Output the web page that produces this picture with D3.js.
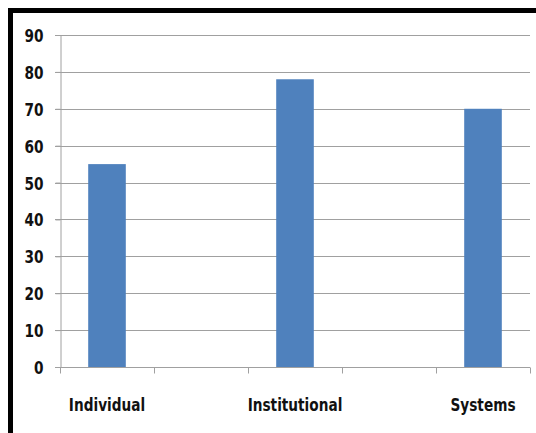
<!DOCTYPE html>
<html>
<head>
<meta charset="utf-8">
<script src="https://cdn.jsdelivr.net/npm/d3@7"></script>
<style>
  body { margin: 0; background: #fff; }
  .lbl { font-family: "DejaVu Sans", sans-serif; font-weight: bold; font-size: 18px; fill: #111; }
</style>
</head>
<body>
<svg id="chart" width="536" height="433"></svg>
<script>
// chart data (blank slots keep the wide spacing of the original)
var categories = ["Individual", "", "Institutional", "", "Systems"];
var values = [55, null, 78, null, 70];
var yTicks = [0, 10, 20, 30, 40, 50, 60, 70, 80, 90];

var width = 536;
var height = 433;
var margin = {top: 35, right: 6, bottom: 66, left: 60};
var w = width - margin.left - margin.right;
var h = height - margin.top - margin.bottom;
var squeeze = 0.76; // narrow the glyphs, the original uses a condensed face

var svg = d3.select("#chart");

// frame (only top and left edges are visible in the picture)
svg.append("rect").attr("x", 8).attr("y", 8).attr("width", width - 8).attr("height", 5).attr("fill", "#000");
svg.append("rect").attr("x", 8).attr("y", 8).attr("width", 5).attr("height", height - 8).attr("fill", "#000");

var chart = svg.append("g")
    .attr("transform", "translate(" + margin.left + "," + margin.top + ")");

var x = d3.scaleBand()
    .domain(d3.range(categories.length))
    .range([0, w])
    .paddingInner(0.6)
    .paddingOuter(0.3);

var y = d3.scaleLinear()
    .domain([0, 90])
    .range([h, 0]);

// gridlines
chart.selectAll(".grid")
    .data(yTicks.slice(1))
    .enter().append("line")
    .attr("x1", -5)
    .attr("x2", w)
    .attr("y1", function(d) { return Math.round(y(d)) + 0.5; })
    .attr("y2", function(d) { return Math.round(y(d)) + 0.5; })
    .attr("stroke", "#a0a0a0")
    .attr("stroke-width", 1);

// bars
chart.selectAll(".bar")
    .data(values.map(function(v, i) { return {i: i, v: v}; }).filter(function(d) { return d.v !== null; }))
    .enter().append("rect")
    .attr("x", function(d) { return x(d.i); })
    .attr("width", x.bandwidth())
    .attr("y", function(d) { return y(d.v); })
    .attr("height", function(d) { return h - y(d.v); })
    .attr("fill", "#4f81bd");

// y axis
var yAxis = d3.axisLeft(y).tickValues(yTicks).tickSize(5);
var gy = chart.append("g").attr("transform", "translate(0.5,0)").call(yAxis);
gy.select(".domain").attr("stroke", "#a0a0a0");
gy.selectAll(".tick line").attr("stroke", "#a0a0a0");
gy.selectAll(".tick text").remove();
gy.selectAll(".tick").append("text")
    .attr("class", "lbl")
    .attr("transform", "translate(-17,0) scale(" + squeeze + ",1)")
    .attr("text-anchor", "end")
    .attr("dy", "0.36em")
    .text(function(d) { return d; });

// x axis line and category boundary ticks
var base = Math.round(h) + 0.5;
chart.append("line")
    .attr("x1", -5).attr("x2", w)
    .attr("y1", base).attr("y2", base)
    .attr("stroke", "#a0a0a0");

chart.selectAll(".xtick")
    .data(d3.range(categories.length + 1))
    .enter().append("line")
    .attr("x1", function(d) { return Math.round(d * w / categories.length) + 0.5; })
    .attr("x2", function(d) { return Math.round(d * w / categories.length) + 0.5; })
    .attr("y1", base)
    .attr("y2", base + 6)
    .attr("stroke", "#a0a0a0");

// category labels
chart.selectAll(".xlbl")
    .data(categories)
    .enter().append("text")
    .attr("class", "lbl")
    .attr("transform", function(d, i) {
        return "translate(" + (x(i) + x.bandwidth() / 2) + "," + (h + 44) + ") scale(" + squeeze + ",1)";
    })
    .attr("text-anchor", "middle")
    .text(function(d) { return d; });
</script>
</body>
</html>
